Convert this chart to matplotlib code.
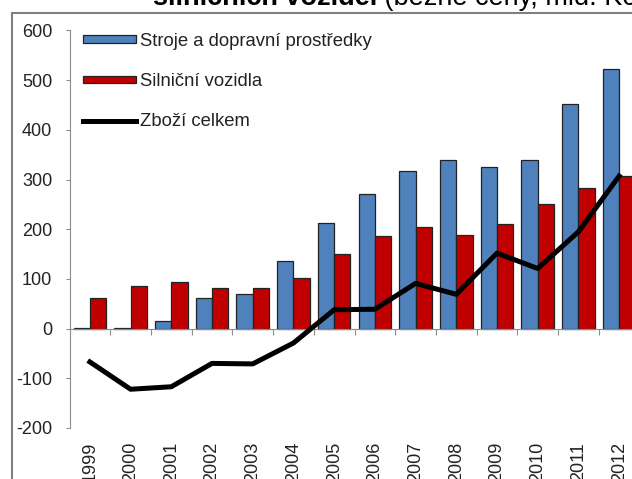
import matplotlib
matplotlib.use('Agg')
import matplotlib.pyplot as plt
from matplotlib.patches import Rectangle
import numpy as np

years = ['1999', '2000', '2001', '2002', '2003', '2004', '2005',
         '2006', '2007', '2008', '2009', '2010', '2011', '2012']
stroje = [2, 2, 16, 62, 69, 137, 212, 271, 317, 339, 325, 339, 452, 522]
silnicni = [62, 85, 93, 82, 82, 101, 150, 186, 204, 189, 210, 250, 284, 307]
zbozi = [-67, -122, -117, -70, -71, -29, 38, 39, 91, 69, 152, 121, 195, 307]
yticks = [-200, -100, 0, 100, 200, 300, 400, 500, 600]

plt.rcParams['font.family'] = ['Liberation Sans', 'DejaVu Sans']

W, H = 632, 479
fig = plt.figure(figsize=(W / 100, H / 100), dpi=100)

# axes box in pixels (left, top, right, bottom) - chart is cropped on the right
l, t, r, b = 69.5, 30.5, 639.5, 428
ax = fig.add_axes([l / W, 1 - b / H, (r - l) / W, (b - t) / H])

x = np.arange(len(years))
h1 = ax.bar(x - 0.2, stroje, width=0.4, color='#4F81BD', edgecolor='#222222',
            linewidth=0.9, zorder=2)
h2 = ax.bar(x + 0.2, silnicni, width=0.4, color='#C00000', edgecolor='#222222',
            linewidth=0.9, zorder=2)
h3, = ax.plot(x, zbozi, color='black', linewidth=3.6, zorder=3)

ax.set_xlim(-0.5, len(years) - 0.5)
ax.set_ylim(-200, 600)
ax.set_yticks(yticks)
ax.set_yticklabels([str(v) for v in yticks])

for s in ['top', 'right']:
    ax.spines[s].set_visible(False)
ax.spines['left'].set_color('#8c8c8c')
ax.spines['bottom'].set_color('#8c8c8c')
ax.spines['bottom'].set_position(('data', 0))
ax.set_xticks(x[:-1] + 0.5)
ax.set_xticklabels([])
ax.tick_params(axis='x', direction='out', length=4.5, color='#8c8c8c')
ax.tick_params(axis='y', direction='out', length=3, color='#8c8c8c',
               labelsize=13, pad=9.5, labelcolor='#222222')

# year labels below the plot area
for i, yr in enumerate(years):
    ax.text(i, -0.035, yr, transform=ax.get_xaxis_transform(), rotation=90,
            ha='center', va='top', fontsize=13, color='#222222')

leg = ax.legend([h1, h2, h3], ['Stroje a dopravní prostředky', 'Silniční vozidla', 'Zboží celkem'],
                loc='upper left', bbox_to_anchor=(82.5 / W, 1 - 33 / H),
                bbox_transform=fig.transFigure, frameon=False, fontsize=13.3,
                handlelength=2.9, handleheight=0.27, handletextpad=0.2,
                labelspacing=1.25, borderpad=0, borderaxespad=0)
for txt in leg.get_texts():
    txt.set_color('#222222')

# outer frame of the original chart
fig.add_artist(Rectangle((12 / W, -0.2), 1.2, 1.2 - 13 / H, transform=fig.transFigure,
                         fill=False, edgecolor='#808080', linewidth=1.5, clip_on=False))

# cropped title
t1 = fig.text(153 / W, 1 - 5 / H, 'silničních vozidel', fontsize=19.5, fontweight='bold',
              va='baseline', ha='left')
fig.canvas.draw()
ext = t1.get_window_extent()
fig.text(ext.x1 / W, 1 - 5 / H, ' (běžné ceny, mld. Kč)', fontsize=19.5,
         va='baseline', ha='left')

fig.savefig('out.png', dpi=100)
